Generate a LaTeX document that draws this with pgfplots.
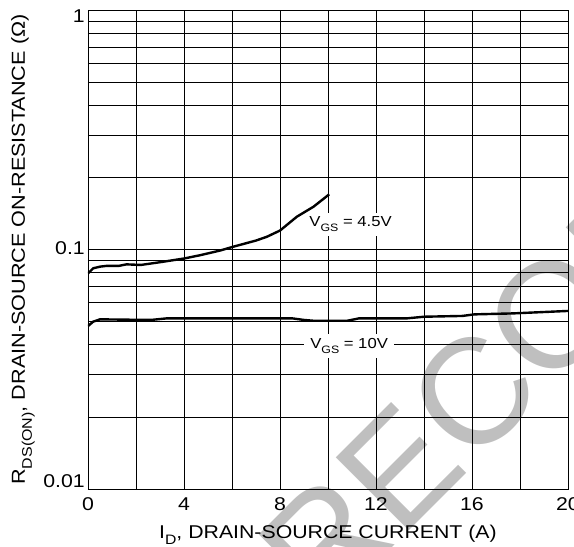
\documentclass[border=0pt]{standalone}
\usepackage{pgfplots}
\pgfplotsset{compat=1.18}
\usepackage{graphicx}
\usepackage{fontspec}
\setmainfont{Liberation Sans}[FakeStretch=1.15]
\newfontfamily\wmfont{Liberation Sans}
\newcommand{\sub}[1]{\raisebox{-0.36em}{\scalebox{0.74}{#1}}}
\begin{document}
\begin{tikzpicture}
\path[use as bounding box] (0pt,0pt) rectangle (574pt,547pt);
\node[overlay, rotate=45, anchor=base west, inner sep=0pt, text=black!25,
      font=\wmfont\fontsize{150}{150}\selectfont] at (323.7pt,-69.3pt) {RECOMMENDED};
\begin{axis}[
  at={(88pt,58pt)}, anchor=south west,
  width=480pt, height=479pt, scale only axis,
  xmin=0, xmax=20, ymin=0.01, ymax=1, ymode=log,
  xtick={0,4,8,12,16,20}, xticklabels={0,4,8,12,16,20},
  minor xtick={2,6,10,14,18},
  ytick={0.01,0.1,1},
  yticklabels={\raisebox{2pt}{0.01},\raisebox{-5pt}{0.1},\raisebox{-12pt}{1}},
  minor ytick={0.02,0.03,0.04,0.05,0.06,0.07,0.08,0.09,0.2,0.3,0.4,0.5,0.6,0.7,0.8,0.9},
  grid=both,
  major grid style={black, line width=0.8pt},
  minor grid style={black, line width=0.8pt},
  axis line style={black, line width=0.8pt},
  major tick length=0pt, minor tick length=0pt,
  tick style={draw=none},
  tick label style={font=\fontsize{18.5}{20}\selectfont},
  /pgf/number format/assume math mode=true,
  xticklabel style={anchor=base, inner sep=0pt, yshift=-21pt},
  yticklabel style={anchor=base east, inner sep=0pt, xshift=-3pt},
  xlabel={I\sub{D}, DRAIN-SOURCE CURRENT (A)},
  xlabel style={at={(axis description cs:0.5,-0.1023)}, anchor=base, inner sep=0pt, font=\fontsize{18.5}{20}\selectfont},
  ylabel={R\sub{DS(ON)}, DRAIN-SOURCE ON-RESISTANCE (Ω)},
  ylabel style={at={(axis description cs:-0.13125,0.5)}, anchor=base, inner sep=0pt, font=\fontsize{18.8}{20}\selectfont},
]
\addplot[black, line width=2.4pt, line join=round] coordinates {
 (0,0.0795) (0.22,0.0835) (0.5,0.0848) (0.8,0.0855) (1.3,0.0855) (1.6,0.0867)
 (2.2,0.0862) (3.0,0.0885) (4.0,0.0917) (4.7,0.0948) (5.5,0.0990) (6.05,0.1027)
 (7.0,0.109) (7.45,0.113) (8.0,0.120) (8.7,0.137) (9.4,0.151) (10.05,0.170)
};
\addplot[black, line width=2.4pt, line join=round] coordinates {
 (0,0.0479) (0.22,0.0500) (0.5,0.0511) (1.9,0.0509) (2.7,0.0509) (3.3,0.0516)
 (8.5,0.0516) (9.0,0.0508) (9.4,0.0504) (10.8,0.0504) (11.3,0.0516) (13.3,0.0516)
 (14.0,0.0524) (15.6,0.0528) (16.1,0.0536) (17.7,0.0541) (20,0.0554)
};
\node[fill=white, anchor=base, inner xsep=3pt, inner ysep=4pt, font=\fontsize{14.5}{16}\selectfont]
  at (axis cs:10.94,0.1245) {V\sub{GS} = 4.5V};
\node[fill=white, anchor=base, inner xsep=6pt, inner ysep=4pt, font=\fontsize{14.5}{16}\selectfont]
  at (axis cs:10.88,0.0387) {V\sub{GS} = 10V};
\end{axis}
\end{tikzpicture}
\end{document}
